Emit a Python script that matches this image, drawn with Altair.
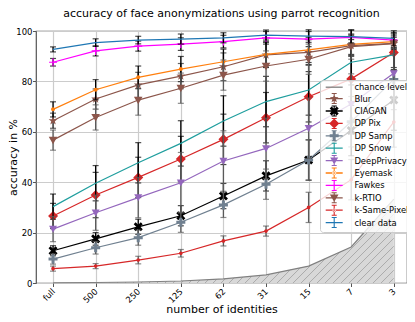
import json
import math
import altair as alt
import pandas as pd

# ---------------- data ----------------
x_labels = ["full", "500", "250", "125", "62", "31", "15", "7", "3"]
chance = [0.1, 0.2, 0.4, 0.8, 1.6, 3.2, 6.7, 14.3, 33.3]

series_names = ["Blur", "CIAGAN", "DP Pix", "DP Samp", "DP Snow", "DeepPrivacy",
                "Eyemask", "Fawkes", "k-RTIO", "k-Same-Pixel", "clear data"]

blur = [64.4, 73.0, 78.6, 82.1, 85.8, 90.5, 91.5, 94.2, 95.1]
ciagan = [12.8, 17.5, 22.3, 26.7, 34.5, 42.5, 48.8, 60.5, 72.6]
dp_pix = [26.6, 34.9, 41.9, 49.2, 57.0, 65.6, 73.9, 81.0, 91.5]
dp_samp = [9.5, 14.0, 18.0, 24.1, 31.0, 39.2, 48.8, 64.0, 80.8]
dp_snow = [30.3, 39.6, 47.7, 55.4, 64.3, 72.0, 76.6, 87.6, 90.5]
deep_privacy = [21.4, 27.9, 33.9, 39.8, 48.4, 53.4, 61.4, 71.0, 83.2]
eyemask = [68.9, 76.7, 81.6, 84.9, 87.8, 90.7, 92.5, 94.7, 95.8]
fawkes = [87.6, 92.1, 94.0, 94.8, 95.8, 97.3, 96.8, 97.5, 96.4]
k_rtio = [56.7, 65.7, 72.6, 77.3, 82.5, 86.1, 88.8, 93.8, 95.0]
k_same_pixel = [5.7, 6.7, 9.1, 11.8, 16.7, 20.6, 30.0, 41.0, 63.9]
clear_data = [92.7, 95.4, 96.4, 96.8, 97.3, 98.4, 98.0, 97.8, 97.1]

blur_err = [3.0, 4.0, 5.0, 5.0, 5.5, 5.0, 5.0, 4.0, 3.0]
ciagan_err = [2.0, 2.5, 3.0, 4.0, 5.0, 6.0, 8.0, 10.0, 12.0]
dp_pix_err = [5.0, 9.0, 8.0, 9.0, 10.0, 10.0, 10.0, 9.0, 6.0]
dp_samp_err = [2.0, 2.5, 3.0, 4.0, 5.0, 6.0, 8.0, 10.0, 12.0]
dp_snow_err = [5.0, 7.0, 8.0, 9.0, 10.0, 10.0, 10.0, 9.0, 6.0]
deep_privacy_err = [5.0, 7.0, 8.0, 12.0, 12.0, 12.0, 12.0, 12.0, 10.0]
eyemask_err = [3.0, 4.0, 4.5, 5.0, 5.0, 5.0, 5.0, 4.0, 3.0]
fawkes_err = [1.5, 2.0, 2.0, 2.5, 2.5, 2.5, 3.0, 3.0, 3.0]
k_rtio_err = [4.0, 5.0, 6.0, 6.0, 6.0, 6.0, 6.0, 5.0, 4.0]
k_same_pixel_err = [1.0, 1.0, 1.5, 1.5, 2.0, 2.0, 6.0, 8.0, 10.0]
clear_data_err = [1.0, 1.5, 1.5, 2.0, 2.0, 2.0, 2.5, 2.5, 3.0]

values = [blur, ciagan, dp_pix, dp_samp, dp_snow, deep_privacy,
          eyemask, fawkes, k_rtio, k_same_pixel, clear_data]
errors = [blur_err, ciagan_err, dp_pix_err, dp_samp_err, dp_snow_err, deep_privacy_err,
          eyemask_err, fawkes_err, k_rtio_err, k_same_pixel_err, clear_data_err]

# ---------------- styles ----------------
colors = ["#8c564b", "#000000", "#d62728", "#708090", "#1f9e9e", "#9467bd",
          "#ff7f0e", "#ff00ff", "#8c564b", "#d62728", "#1f77b4"]
ecolors = ["#222222", "#000000", "#000000", "#5a5a5a", "#000000", "#5a5a5a",
           "#000000", "#000000", "#5a5a5a", "#5a5a5a", "#000000"]


def poly(pts, dx=0.0):
    return "M" + "L".join(f"{x + dx:.2f},{y:.2f}" for x, y in pts) + "Z"


def rect(w, h, ang=0.0, dx=0.0, dy=0.0):
    c, s = math.cos(ang), math.sin(ang)
    pts = []
    for px, py in [(-w / 2, -h / 2), (w / 2, -h / 2), (w / 2, h / 2), (-w / 2, h / 2)]:
        pts.append((px * c - py * s, px * s + py * c + dy))
    return poly(pts, dx)


def star(R, r, dx=0.0):
    pts = []
    for k in range(10):
        a = -math.pi / 2 + k * math.pi / 5
        rad = R if k % 2 == 0 else r
        pts.append((rad * math.cos(a), rad * math.sin(a)))
    return poly(pts, dx)


def circle(r, dx=0.0):
    return f"M{-r + dx:.2f},0A{r},{r} 0 1,0 {r + dx:.2f},0A{r},{r} 0 1,0 {-r + dx:.2f},0Z"


def marker_paths(dx):
    return [
        star(4.6, 1.9, dx),                                                  # Blur
        rect(10, 2.8, math.pi / 4, dx) + rect(10, 2.8, -math.pi / 4, dx),    # CIAGAN
        poly([(0, -5), (5, 0), (0, 5), (-5, 0)], dx),                        # DP Pix
        rect(9, 3.0, 0, dx) + rect(3.0, 9, 0, dx),                           # DP Samp
        None,                                                                # DP Snow
        poly([(-4, -3.2), (4, -3.2), (0, 3.8)], dx),                         # DeepPrivacy
        circle(2.0, dx),                                                     # Eyemask
        rect(8, 1.2, 0, dx) + rect(1.2, 8, 0, dx),                           # Fawkes
        poly([(-4.3, -3.4), (4.3, -3.4), (0, 4.1)], dx),                     # k-RTIO
        circle(1.8, dx),                                                     # k-Same-Pixel
        None,                                                                # clear data
    ]


markers = marker_paths(0.0)

LEG_DX = 7.0
legend_names = ["chance level"] + series_names
legend_colors = ["#808080"] + colors
line_sym = rect(17, 1.3, 0, LEG_DX)
ebar_sym = (rect(1.1, 10, 0, LEG_DX) + rect(5, 1.0, 0, LEG_DX, -5) + rect(5, 1.0, 0, LEG_DX, 5))
legend_paths = [line_sym] + [line_sym + ebar_sym + (m or "") for m in marker_paths(LEG_DX)]

# ---------------- geometry ----------------
W, H = 371, 252
X_DOM = [-0.4, 8.31]
Y_DOM = [0, 100]
idx = list(range(len(x_labels)))

label_expr = json.dumps(x_labels) + "[datum.value]"
x_axis = alt.Axis(values=idx, labelExpr=label_expr, title="number of identities",
                  labelAngle=-45, labelAlign="right", labelBaseline="middle",
                  labelPadding=3, titleY=29, titleBaseline="alphabetic",
                  titleX=W / 2, titleAlign="center")
y_axis = alt.Axis(values=[0, 20, 40, 60, 80, 100], title="accuracy in %",
                  labelPadding=0.5, titleX=-17.5, titleY=H / 2,
                  titleBaseline="bottom", titleAlign="center", titleAngle=270)
x_scale = alt.Scale(domain=X_DOM, nice=False, zero=False)
y_scale = alt.Scale(domain=Y_DOM, nice=False)


def X(field):
    return alt.X(f"{field}:Q", scale=x_scale, axis=x_axis)


def Y(field):
    return alt.Y(f"{field}:Q", scale=y_scale, axis=y_axis)


layers = []

# chance level area
chance_df = pd.DataFrame({"idx": idx, "value": chance})
layers.append(alt.Chart(chance_df).mark_area(color="#d8d8d8", opacity=1).encode(
    x=X("idx"), y=Y("value")))

# hatch lines inside the chance area ("/" hatch)
ppx = W / (X_DOM[1] - X_DOM[0])
ppy = H / (Y_DOM[1] - Y_DOM[0])
cx = [(i - X_DOM[0]) * ppx for i in idx]
cy = [v * ppy for v in chance]


def f_curve(xp):
    for k in range(len(cx) - 1):
        if cx[k] <= xp <= cx[k + 1]:
            t = (xp - cx[k]) / (cx[k + 1] - cx[k])
            return cy[k] + t * (cy[k + 1] - cy[k])
    return cy[-1]


hatch = []
c = cx[0]
spacing = 8.0
while c < cx[-1]:
    xs = c
    xe = xs
    while xe < cx[-1] and (xe - c) <= f_curve(xe):
        xe += 0.25
    xe = min(xe, cx[-1])
    if xe - xs > 0.5:
        hatch.append({"x1": xs / ppx + X_DOM[0], "y1": 0.0,
                      "x2": xe / ppx + X_DOM[0], "y2": (xe - c) / ppy})
    c += spacing
hatch_df = pd.DataFrame(hatch)
layers.append(alt.Chart(hatch_df).mark_rule(color="#a0a0a0", strokeWidth=0.8).encode(
    x=X("x1"), y=Y("y1"), x2="x2:Q", y2="y2:Q"))

# chance line
layers.append(alt.Chart(chance_df).mark_line(color="#808080", strokeWidth=1.2).encode(
    x=X("idx"), y=Y("value")))

for name, vals, errs, col, ecol, mk in zip(series_names, values, errors, colors, ecolors, markers):
    df = pd.DataFrame({"idx": idx, "value": vals, "err": errs})
    df["lo"] = df["value"] - df["err"]
    df["hi"] = df["value"] + df["err"]
    base = alt.Chart(df)
    layers.append(base.mark_rule(color=ecol, strokeWidth=1.3).encode(
        x=X("idx"), y=Y("lo"), y2="hi:Q"))
    layers.append(base.mark_tick(color=ecol, thickness=1.2, size=6, orient="horizontal").encode(
        x=X("idx"), y=Y("lo")))
    layers.append(base.mark_tick(color=ecol, thickness=1.2, size=6, orient="horizontal").encode(
        x=X("idx"), y=Y("hi")))
    layers.append(base.mark_line(color=col, strokeWidth=1.2).encode(
        x=X("idx"), y=Y("value")))
    if mk:
        layers.append(base.mark_point(filled=True, shape=mk, size=4, color=col, opacity=1).encode(
            x=X("idx"), y=Y("value")))

# legend (library legend, drawn from an invisible clipped layer)
leg = alt.Legend(title=None, orient="none", legendX=284, legendY=49,
                 fillColor="rgba(255,255,255,0.8)", strokeColor="#cccccc",
                 padding=3, cornerRadius=3, labelFont="DejaVu Sans", labelFontSize=8.4,
                 labelColor="#000000", symbolSize=4, symbolStrokeWidth=0,
                 symbolOpacity=1, rowPadding=0.4, labelOffset=23, symbolOffset=0,
                 labelLimit=200)
leg_df = pd.DataFrame({"name": legend_names})
layers.append(alt.Chart(leg_df).mark_point(filled=True, size=4, clip=True, opacity=1).encode(
    x=alt.value(-500), y=alt.value(-500),
    color=alt.Color("name:N", scale=alt.Scale(domain=legend_names, range=legend_colors), legend=leg),
    shape=alt.Shape("name:N", scale=alt.Scale(domain=legend_names, range=legend_paths), legend=leg)))

chart = alt.layer(*layers).properties(
    width=W, height=H,
    title=alt.TitleParams("accuracy of face anonymizations using parrot recognition",
                          fontSize=11, fontWeight="normal", font="DejaVu Sans",
                          color="#000000", anchor="middle", offset=8),
    autosize=alt.AutoSizeParams(type="none"),
    padding={"left": 28, "top": 23, "right": 0, "bottom": 31},
).configure(font="DejaVu Sans").configure_view(
    stroke="#555555", strokeWidth=1.2
).configure_axis(
    labelFont="DejaVu Sans", labelFontSize=8.5, labelColor="#000000",
    titleFont="DejaVu Sans", titleFontSize=11, titleFontWeight="normal", titleColor="#000000",
    tickColor="#555555", tickSize=3.5, tickWidth=1, domain=False,
    grid=True, gridColor="#cccccc", gridWidth=1.2,
)

chart.save("out.html", embed_options={"renderer": "svg", "actions": False})
